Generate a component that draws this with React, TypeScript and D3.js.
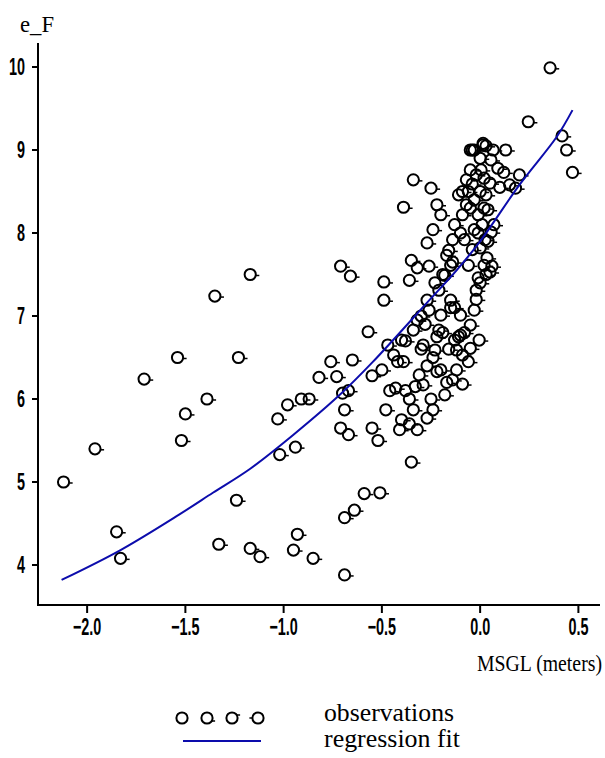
import React from "react";
import * as d3 from "d3";

const obsX = [
  -2.12, -1.96, -1.85, -1.83, -1.71, -1.54, -1.5, -1.52, -1.35, -1.39, -1.33, -1.17, -1.23, -1.24, -1.17, -1.12,
  -1.03, -0.98, -1.02, -0.94, -0.95, -0.93, -0.91, -0.87, -0.85, -0.82, -0.76, -0.73, -0.71, -0.66, -0.69, -0.69,
  -0.64, -0.7, -0.69, -0.71, -0.67, -0.65, -0.67, -0.59, -0.51, -0.57, -0.49, -0.49, -0.55, -0.55, -0.52, -0.5,
  -0.47, -0.48, -0.44, -0.4, -0.43, -0.41, -0.4, -0.39, -0.35, -0.34, -0.39, -0.35, -0.38, -0.36, -0.34, -0.32,
  -0.36, -0.32, -0.34, -0.32, -0.31, -0.29, -0.27, -0.26, -0.25, -0.27, -0.24, -0.22, -0.2, -0.29, -0.25, -0.24,
  -0.27, -0.23, -0.21, -0.2, -0.22, -0.2, -0.18, -0.21, -0.18, -0.17, -0.15, -0.15, -0.13, -0.12, -0.1, -0.09,
  -0.14, -0.09, -0.15, -0.13, -0.16, -0.14, -0.13, -0.11, -0.09, -0.09, -0.07, -0.07, -0.05, -0.05, -0.04, -0.03,
  -0.08, -0.06, -0.04, -0.03, -0.01, 0.015, 0.005, 0.02, 0.03, 0.04, 0.055, 0.066, 0.09, 0.12, 0.13, 0.15,
  0.18, 0.2, 0.245, 0.356, 0.417, 0.44, 0.47, 0.01, 0.025, 0.035, 0.02, 0.05, -0.01, -0.02, 0.0, -0.03,
  -0.1, -0.05, -0.005, -0.05, -0.06, 0.07, 0.056,
  -0.3, -0.28, -0.19, -0.16, -0.11, -0.08, -0.02, 0.0, 0.03, 0.06, 0.04, -0.01, 0.02, -0.05, -0.1, -0.14,
  -0.19, -0.23, -0.26, -0.06, 0.0, 0.05, 0.1, -0.02, 0.0, -0.03, 0.03, -0.12, -0.17, -0.24, -0.3, -0.38,
  -0.42, -0.46, -0.36, -0.33, -0.27, -0.22, -0.04, 0.015
];

const obsY = [
  5.0, 5.4, 4.4, 4.08, 6.24, 6.5, 5.82, 5.5, 7.24, 6.0, 4.25, 7.5, 6.5, 4.78, 4.2, 4.1,
  5.76, 5.93, 5.33, 5.42, 4.18, 4.37, 6.0, 6.0, 4.08, 6.26, 6.45, 6.27, 7.6, 7.48, 3.88, 4.57,
  4.66, 6.07, 5.87, 5.65, 5.57, 6.47, 6.1, 4.86, 4.87, 6.81, 7.19, 7.41, 6.28, 5.65, 5.5, 6.35,
  6.65, 5.87, 6.53, 6.71, 6.13, 5.63, 5.75, 6.45, 7.67, 8.64, 8.31, 5.24, 6.1, 6.0, 6.83, 6.95,
  7.43, 7.58, 5.87, 5.63, 6.29, 6.65, 7.19, 7.07, 8.54, 7.88, 8.04, 8.34, 8.22, 6.17, 6.0, 5.87,
  5.77, 6.59, 6.83, 7.01, 6.33, 6.35, 6.05, 7.31, 7.49, 7.73, 7.61, 7.19, 6.71, 6.59, 6.77, 6.53,
  6.23, 6.18, 7.1, 7.1, 7.79, 7.92, 8.1, 8.46, 8.5, 8.22, 8.34, 8.64, 8.76, 9.0, 8.59, 8.4,
  7.92, 7.61, 7.8, 8.04, 8.22, 9.06, 8.76, 8.66, 8.46, 8.28, 8.88, 9.0, 8.78, 8.73, 9.0, 8.58,
  8.54, 8.7, 9.34, 9.99, 9.17, 9.0, 8.73, 8.1, 7.92, 7.7, 7.61, 7.53, 7.46, 7.31, 7.82, 7.07,
  7.01, 6.89, 6.71, 6.61, 6.45, 8.1, 8.01,
  7.0, 6.9, 6.8, 6.6, 6.75, 6.8, 7.2, 7.4, 7.5, 7.6, 7.9, 8.0, 8.3, 8.3, 8.0, 7.65,
  7.5, 7.4, 7.6, 8.5, 8.5, 8.6, 8.55, 8.7, 8.9, 9.0, 9.05, 6.35, 6.2, 6.5, 6.6, 6.7,
  6.45, 6.1, 5.7, 6.15, 6.4, 6.75, 9.0, 9.08
];

const fitX = [-2.13, -1.83, -1.53, -1.36, -1.17, -0.95, -0.71, -0.545, -0.255, -0.12, 0.0, 0.2, 0.39, 0.47];
const fitY = [3.82, 4.18, 4.61, 4.87, 5.16, 5.57, 6.06, 6.45, 7.2, 7.55, 7.9, 8.58, 9.16, 9.48];

const xTicks = [-2.0, -1.5, -1.0, -0.5, 0.0, 0.5];
const yTicks = [4, 5, 6, 7, 8, 9, 10];

const xLabel = "MSGL (meters)";
const yLabel = "e_F";
const legendLabels = ["observations", "regression fit"];

const LINE_COLOR = "#0c0cac";
const tickFont = "'Liberation Sans', Arial, sans-serif";
const serif = "'Liberation Serif', 'Times New Roman', serif";

function Marker({ cx, cy, tick = "r" }: { cx: number; cy: number; tick?: string }) {
  const r = 5.6;
  let t: [number, number, number, number] = [r, 1, r + 3.5, 1];
  if (tick === "br") t = [r - 1, 3, r + 2.5, 3];
  if (tick === "tr") t = [r - 1, -3, r + 2.5, -3];
  if (tick === "l") t = [-r, 0, -r - 3, 0];
  return (
    <g transform={`translate(${cx},${cy})`}>
      <circle r={r} fill="none" stroke="#000" strokeWidth={2} />
      {tick !== "none" && (
        <line x1={t[0]} y1={t[1]} x2={t[2]} y2={t[3]} stroke="#000" strokeWidth={1.5} />
      )}
    </g>
  );
}

export default function App() {
  const x = d3.scaleLinear().domain([-2.25, 0.61]).range([38, 600]);
  const y = d3.scaleLinear().domain([3.518, 10.289]).range([605, 43]);

  const fitPts: [number, number][] = fitX.map((v, i) => [x(v), y(fitY[i])]);
  const line = d3.line().curve(d3.curveCatmullRom)(fitPts) || "";

  const fmt = d3.format(".1f");

  return (
    <svg
      width={605}
      height={758}
      style={{ position: "absolute", left: 0, top: 0, background: "#fff" }}
    >
      <rect width={605} height={758} fill="#fff" />
      {/* axes */}
      <line x1={38} y1={43} x2={38} y2={606} stroke="#000" strokeWidth={2} />
      <line x1={37} y1={605} x2={600} y2={605} stroke="#000" strokeWidth={2} />
      {yTicks.map((t) => (
        <g key={"y" + t}>
          <line x1={32} x2={38} y1={y(t)} y2={y(t)} stroke="#000" strokeWidth={2} />
          <text
            transform={`translate(25,${y(t) + 8.5}) scale(0.6,1)`}
            textAnchor="end"
            fontFamily={tickFont}
            fontSize={24}
            fontWeight="bold"
            fill="#000"
          >
            {String(t)}
          </text>
        </g>
      ))}
      {xTicks.map((t) => (
        <g key={"x" + t}>
          <line x1={x(t)} x2={x(t)} y1={605} y2={613} stroke="#000" strokeWidth={2} />
          <text
            transform={`translate(${x(t)},${635}) scale(0.6,1)`}
            textAnchor="middle"
            fontFamily={tickFont}
            fontSize={24}
            fontWeight="bold"
            fill="#000"
          >
            {(t < 0 ? "\u2212" : "") + fmt(Math.abs(t))}
          </text>
        </g>
      ))}
      <text x={20} y={32} fontFamily={serif} fontSize={23} fill="#000" textLength={34} lengthAdjust="spacingAndGlyphs">
        {yLabel}
      </text>
      <text
        transform="translate(602,671) scale(0.86,1)"
        textAnchor="end"
        fontFamily={serif}
        fontSize={23}
        fill="#000"
      >
        {xLabel}
      </text>

      {/* observations */}
      {obsX.map((v, i) => (
        <Marker key={i} cx={x(v)} cy={y(obsY[i])} />
      ))}

      {/* regression */}
      <path d={line} fill="none" stroke={LINE_COLOR} strokeWidth={2} />

      {/* legend */}
      <Marker cx={182} cy={718} tick="none" />
      <Marker cx={207} cy={718} tick="br" />
      <Marker cx={232} cy={718} tick="tr" />
      <Marker cx={258} cy={718} tick="l" />
      <line x1={183} x2={261} y1={741} y2={741} stroke={LINE_COLOR} strokeWidth={2} />
      <text x={324} y={721} fontFamily={serif} fontSize={25} fill="#000" textLength={130} lengthAdjust="spacingAndGlyphs">
        {legendLabels[0]}
      </text>
      <text x={324} y={747} fontFamily={serif} fontSize={25} fill="#000" textLength={136} lengthAdjust="spacingAndGlyphs">
        {legendLabels[1]}
      </text>
    </svg>
  );
}
